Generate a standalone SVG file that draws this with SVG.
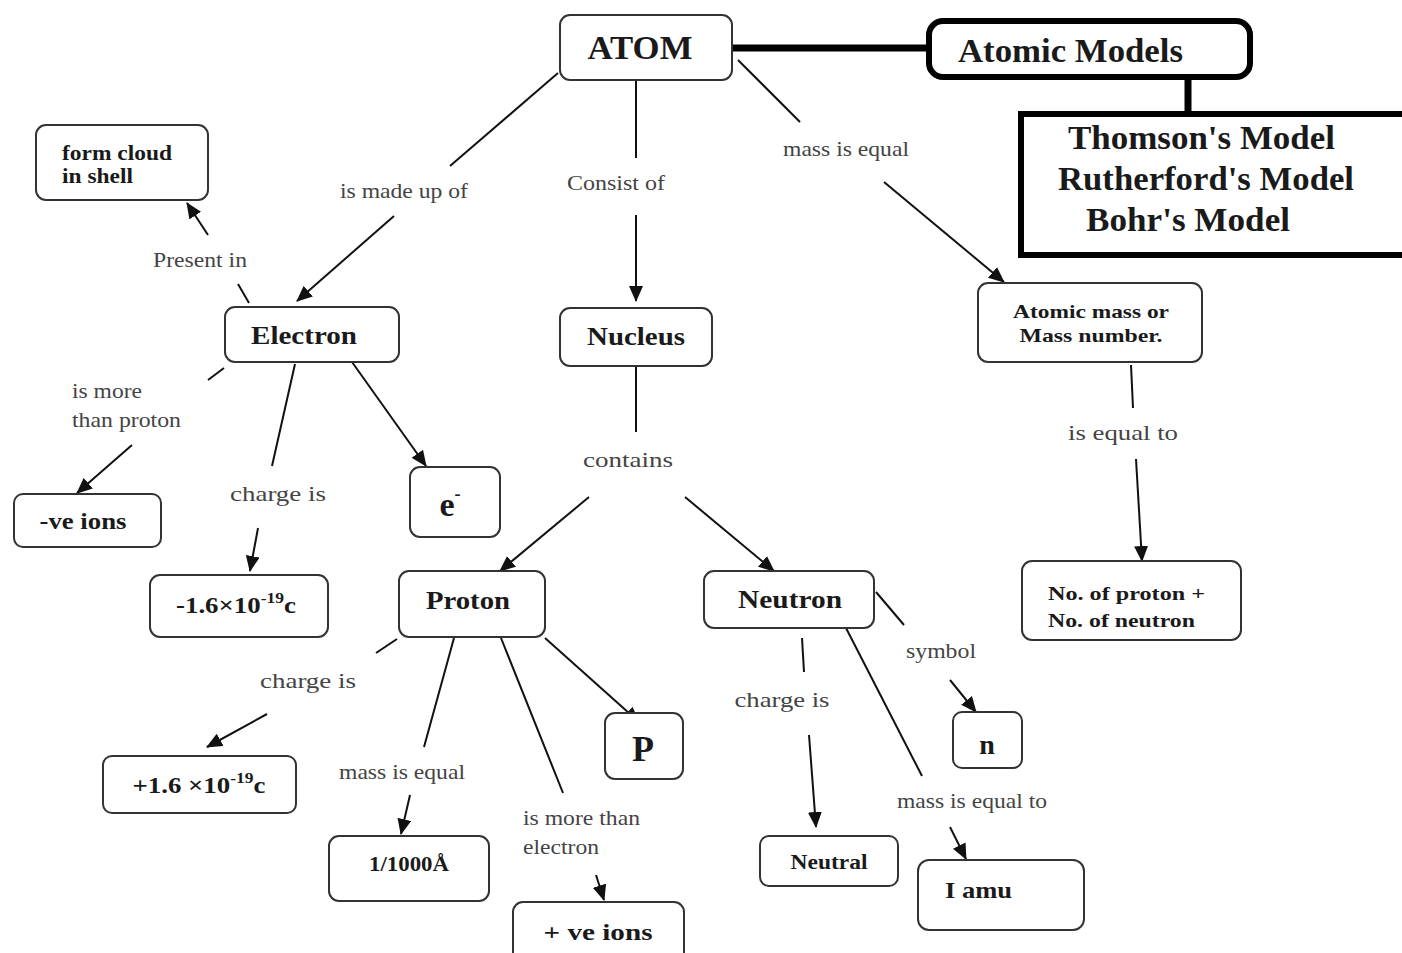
<svg xmlns="http://www.w3.org/2000/svg" width="1402" height="953" viewBox="0 0 1402 953">
<defs>
<marker id="ah" markerUnits="userSpaceOnUse" markerWidth="16" markerHeight="14" viewBox="0 0 16 14" refX="15" refY="7" orient="auto">
<path d="M0,0 L16,7 L0,14 z" fill="#111"/>
</marker>
<style>
.box{fill:#fff;stroke:#333;stroke-width:2}
.nt{font-family:"Liberation Serif","Times New Roman",serif;font-weight:bold;fill:#1a1a1a;text-anchor:middle}
.lb{font-family:"Liberation Serif","Times New Roman",serif;fill:#444;text-anchor:middle;font-size:22px}
.st{text-anchor:start}
.ln{stroke:#111;stroke-width:2;fill:none}
.ar{stroke:#111;stroke-width:2;fill:none;marker-end:url(#ah)}
.thick{stroke:#000;stroke-width:7;fill:none}
</style>
</defs>
<rect width="1402" height="953" fill="#fff"/>

<g id="connectors">
<line class="thick" x1="732" y1="48" x2="930" y2="48"/>
<line class="thick" x1="1188" y1="78" x2="1188" y2="112"/>
<line class="ln" x1="558" y1="73" x2="450" y2="166"/>
<line class="ar" x1="394" y1="216" x2="297" y2="301"/>
<line class="ln" x1="636" y1="80" x2="636" y2="158"/>
<line class="ar" x1="636" y1="215" x2="636" y2="301"/>
<line class="ln" x1="738" y1="60" x2="800" y2="122"/>
<line class="ar" x1="884" y1="182" x2="1004" y2="282"/>
<line class="ln" x1="249" y1="303" x2="238" y2="284"/>
<line class="ar" x1="208" y1="235" x2="187" y2="203"/>
<line class="ln" x1="224" y1="368" x2="208" y2="380"/>
<line class="ar" x1="132" y1="445" x2="77" y2="493"/>
<line class="ln" x1="295" y1="364" x2="272" y2="466"/>
<line class="ar" x1="258" y1="528" x2="250" y2="571"/>
<line class="ar" x1="352" y1="362" x2="426" y2="466"/>
<line class="ln" x1="636" y1="366" x2="636" y2="432"/>
<line class="ar" x1="589" y1="497" x2="500" y2="571"/>
<line class="ar" x1="685" y1="497" x2="774" y2="571"/>
<line class="ln" x1="1131" y1="365" x2="1133" y2="408"/>
<line class="ar" x1="1136" y1="459" x2="1142" y2="561"/>
<line class="ln" x1="397" y1="639" x2="376" y2="653"/>
<line class="ar" x1="267" y1="714" x2="207" y2="747"/>
<line class="ln" x1="454" y1="638" x2="424" y2="747"/>
<line class="ar" x1="410" y1="795" x2="401" y2="834"/>
<line class="ln" x1="501" y1="638" x2="563" y2="793"/>
<line class="ar" x1="596" y1="875" x2="604" y2="900"/>
<line class="ar" x1="545" y1="638" x2="639" y2="722"/>
<line class="ln" x1="802" y1="638" x2="804" y2="672"/>
<line class="ar" x1="809" y1="735" x2="816" y2="827"/>
<line class="ln" x1="846" y1="628" x2="922" y2="776"/>
<line class="ar" x1="950" y1="827" x2="966" y2="859"/>
<line class="ln" x1="876" y1="592" x2="904" y2="625"/>
<line class="ar" x1="950" y1="680" x2="976" y2="712"/>
</g>

<g id="labels">
<text class="lb" x="404" y="198" textLength="128" lengthAdjust="spacingAndGlyphs">is made up of</text>
<text class="lb" x="616" y="190" textLength="98" lengthAdjust="spacingAndGlyphs">Consist of</text>
<text class="lb" x="846" y="156" textLength="126" lengthAdjust="spacingAndGlyphs">mass is equal</text>
<text class="lb" x="200" y="267" textLength="94" lengthAdjust="spacingAndGlyphs">Present in</text>
<text class="lb st" x="72" y="398" textLength="70" lengthAdjust="spacingAndGlyphs">is more</text>
<text class="lb st" x="72" y="427" textLength="109" lengthAdjust="spacingAndGlyphs">than proton</text>
<text class="lb" x="278" y="501" textLength="96" lengthAdjust="spacingAndGlyphs">charge is</text>
<text class="lb" x="628" y="467" textLength="90" lengthAdjust="spacingAndGlyphs">contains</text>
<text class="lb" x="1123" y="440" textLength="110" lengthAdjust="spacingAndGlyphs">is equal to</text>
<text class="lb" x="308" y="688" textLength="96" lengthAdjust="spacingAndGlyphs">charge is</text>
<text class="lb" x="402" y="779" textLength="126" lengthAdjust="spacingAndGlyphs">mass is equal</text>
<text class="lb st" x="523" y="825" textLength="117" lengthAdjust="spacingAndGlyphs">is more than</text>
<text class="lb st" x="523" y="854" textLength="76" lengthAdjust="spacingAndGlyphs">electron</text>
<text class="lb" x="782" y="707" textLength="95" lengthAdjust="spacingAndGlyphs">charge is</text>
<text class="lb" x="941" y="658" textLength="70" lengthAdjust="spacingAndGlyphs">symbol</text>
<text class="lb" x="972" y="808" textLength="150" lengthAdjust="spacingAndGlyphs">mass is equal to</text>
</g>

<g id="atom"><rect class="box" x="560" y="15" width="172" height="65" rx="10"/><text class="nt" x="640" y="59" font-size="33" textLength="105" lengthAdjust="spacingAndGlyphs">ATOM</text></g>

<g id="atomic-models"><rect x="929" y="21" width="321" height="56" rx="14" fill="#fff" stroke="#000" stroke-width="6"/><text class="nt st" x="958" y="62" font-size="33" fill="#111" textLength="225" lengthAdjust="spacingAndGlyphs">Atomic Models</text></g>

<g id="models"><rect x="1021" y="114" width="400" height="141" fill="#fff" stroke="#000" stroke-width="6"/>
<text class="nt st" x="1068" y="149" font-size="34" textLength="267" lengthAdjust="spacingAndGlyphs">Thomson's Model</text>
<text class="nt st" x="1058" y="190" font-size="34" textLength="296" lengthAdjust="spacingAndGlyphs">Rutherford's Model</text>
<text class="nt st" x="1086" y="231" font-size="34" textLength="204" lengthAdjust="spacingAndGlyphs">Bohr's Model</text></g>

<g id="form-cloud"><rect class="box" x="36" y="125" width="172" height="75" rx="10"/><text class="nt st" x="62" y="160" font-size="20" textLength="110" lengthAdjust="spacingAndGlyphs">form cloud</text><text class="nt st" x="62" y="183" font-size="20" textLength="71" lengthAdjust="spacingAndGlyphs">in shell</text></g>

<g id="electron"><rect class="box" x="225" y="307" width="174" height="55" rx="10"/><text class="nt" x="304" y="344" font-size="26" textLength="106" lengthAdjust="spacingAndGlyphs">Electron</text></g>

<g id="nucleus"><rect class="box" x="560" y="308" width="152" height="58" rx="10"/><text class="nt" x="636" y="345" font-size="26" textLength="98" lengthAdjust="spacingAndGlyphs">Nucleus</text></g>

<g id="atomic-mass"><rect class="box" x="978" y="283" width="224" height="79" rx="10"/><text class="nt" x="1091" y="318" font-size="19" textLength="156" lengthAdjust="spacingAndGlyphs">Atomic mass or</text><text class="nt" x="1091" y="342" font-size="19" textLength="143" lengthAdjust="spacingAndGlyphs">Mass number.</text></g>

<g id="neg-ions"><rect class="box" x="14" y="494" width="147" height="53" rx="9"/><text class="nt" x="83" y="529" font-size="23" textLength="87" lengthAdjust="spacingAndGlyphs">-ve ions</text></g>

<g id="e-minus"><rect class="box" x="410" y="467" width="90" height="70" rx="10"/><text class="nt" x="450" y="516" font-size="34">e<tspan font-size="18" dy="-16">-</tspan></text></g>

<g id="e-charge"><rect class="box" x="150" y="575" width="178" height="62" rx="10"/><text class="nt" x="236" y="613" font-size="23" textLength="120" lengthAdjust="spacingAndGlyphs">-1.6×10<tspan font-size="15" dy="-10">-19</tspan><tspan dy="10">c</tspan></text></g>

<g id="proton"><rect class="box" x="399" y="571" width="146" height="66" rx="10"/><text class="nt" x="468" y="609" font-size="26" textLength="84" lengthAdjust="spacingAndGlyphs">Proton</text></g>

<g id="neutron"><rect class="box" x="704" y="571" width="170" height="57" rx="10"/><text class="nt" x="790" y="608" font-size="26" textLength="104" lengthAdjust="spacingAndGlyphs">Neutron</text></g>

<g id="sum"><rect class="box" x="1022" y="561" width="219" height="79" rx="10"/><text class="nt st" x="1048" y="600" font-size="19" textLength="157" lengthAdjust="spacingAndGlyphs">No. of proton +</text><text class="nt st" x="1048" y="627" font-size="19" textLength="147" lengthAdjust="spacingAndGlyphs">No. of neutron</text></g>

<g id="p-charge"><rect class="box" x="103" y="756" width="193" height="57" rx="9"/><text class="nt" x="199" y="793" font-size="23" textLength="133" lengthAdjust="spacingAndGlyphs">+1.6 ×10<tspan font-size="15" dy="-10">-19</tspan><tspan dy="10">c</tspan></text></g>

<g id="p-symbol"><rect class="box" x="605" y="713" width="78" height="66" rx="10"/><text class="nt" x="643" y="761" font-size="36">P</text></g>

<g id="n-symbol"><rect class="box" x="953" y="712" width="69" height="56" rx="9"/><text class="nt" x="987" y="754" font-size="28">n</text></g>

<g id="p-mass"><rect class="box" x="329" y="836" width="160" height="65" rx="10"/><text class="nt" x="409" y="871" font-size="20" textLength="80" lengthAdjust="spacingAndGlyphs">1/1000Å</text></g>

<g id="pos-ions"><rect class="box" x="513" y="902" width="171" height="60" rx="10"/><text class="nt" x="598" y="940" font-size="24" textLength="109" lengthAdjust="spacingAndGlyphs">+ ve ions</text></g>

<g id="neutral"><rect class="box" x="760" y="836" width="138" height="50" rx="9"/><text class="nt" x="829" y="869" font-size="20" textLength="77" lengthAdjust="spacingAndGlyphs">Neutral</text></g>

<g id="amu"><rect class="box" x="918" y="860" width="166" height="70" rx="11"/><text class="nt st" x="945" y="898" font-size="24" textLength="67" lengthAdjust="spacingAndGlyphs">I amu</text></g>
</svg>
